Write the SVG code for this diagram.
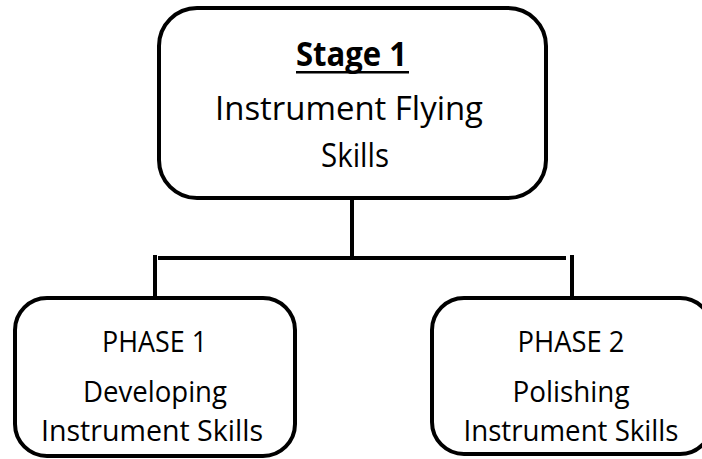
<svg xmlns="http://www.w3.org/2000/svg" width="702" height="459" viewBox="0 0 702 459">
<style>
.box{fill:#fff;stroke:#000;stroke-width:4}
.ln{stroke:#000;stroke-width:4;fill:none}
.t{font-family:"Open Sans","Liberation Sans",sans-serif;fill:#000;text-anchor:middle}
.big{font-size:33.5px}
.sm{font-size:30px}
.b{font-weight:bold}
</style>
<rect width="702" height="459" fill="#fff"/>
<g id="connectors">
<line class="ln" x1="352" y1="200" x2="352" y2="258"/>
<line class="ln" x1="158" y1="258" x2="566" y2="258"/>
<line class="ln" x1="155" y1="255" x2="155" y2="298"/>
<line class="ln" x1="572" y1="255" x2="572" y2="298"/>
</g>
<g id="stage1">
<rect class="box" x="159" y="8" width="387" height="190" rx="38"/>
<text class="t big b" x="351.5" y="66" textLength="111" lengthAdjust="spacingAndGlyphs">Stage 1</text>
<rect x="296" y="71" width="113" height="2.5" fill="#000"/>
<text class="t big" x="349" y="120" textLength="268" lengthAdjust="spacingAndGlyphs">Instrument Flying</text>
<text class="t big" x="355" y="167" textLength="68" lengthAdjust="spacingAndGlyphs">Skills</text>
</g>
<g id="phase1">
<rect class="box" x="15" y="298" width="280" height="158" rx="32"/>
<text class="t sm" x="154.5" y="352" textLength="105" lengthAdjust="spacingAndGlyphs">PHASE 1</text>
<text class="t sm" x="155" y="402" textLength="144" lengthAdjust="spacingAndGlyphs">Developing</text>
<text class="t sm" x="152" y="441" textLength="222" lengthAdjust="spacingAndGlyphs">Instrument Skills</text>
</g>
<g id="phase2">
<rect class="box" x="432" y="298" width="280" height="156" rx="32"/>
<text class="t sm" x="571" y="352" textLength="107" lengthAdjust="spacingAndGlyphs">PHASE 2</text>
<text class="t sm" x="571" y="402" textLength="117" lengthAdjust="spacingAndGlyphs">Polishing</text>
<text class="t sm" x="571" y="441" textLength="215" lengthAdjust="spacingAndGlyphs">Instrument Skills</text>
</g>
</svg>
